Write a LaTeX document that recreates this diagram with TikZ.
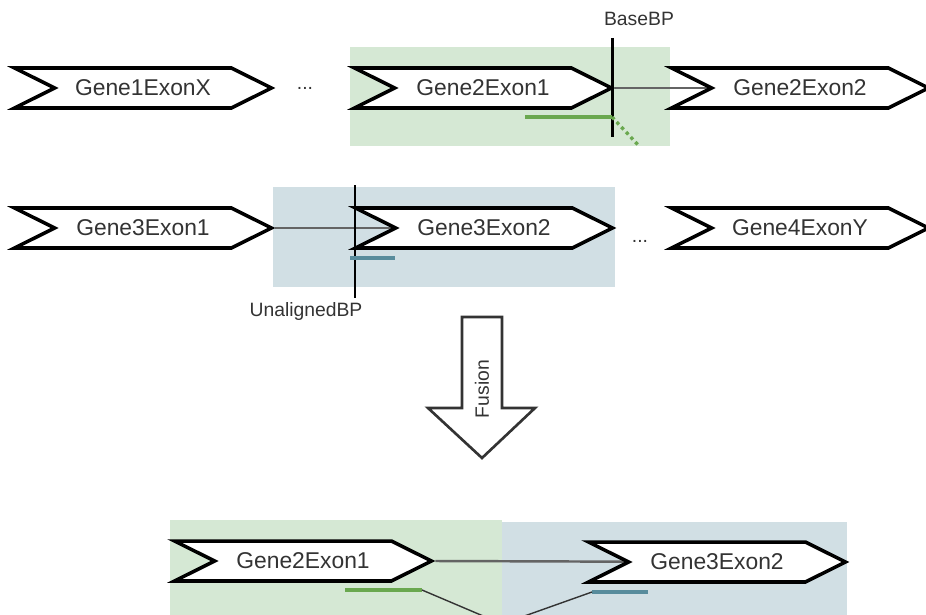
\documentclass[tikz,border=0pt]{standalone}
\usepackage{fontspec}
\setmainfont{Liberation Sans}
\usepackage{tikz}
\usetikzlibrary{positioning,shapes.symbols}
\definecolor{greenbg}{RGB}{213,232,212}
\definecolor{bluebg}{RGB}{209,223,228}
\definecolor{greenln}{RGB}{106,168,79}
\definecolor{blueln}{RGB}{88,140,156}
\definecolor{linkgray}{RGB}{100,100,100}
\definecolor{txtgray}{RGB}{51,51,51}
\pgfdeclarelayer{back}
\pgfdeclarelayer{links}
\pgfsetlayers{back,links,main}

\begin{document}
\begin{tikzpicture}[x=0.02cm, y=-0.02cm,
  exon/.style={draw, line width=2pt, fill=white, signal, signal from=west, signal to=east,
    signal pointer angle=53, minimum width=5.14cm, minimum height=0.8cm, inner sep=0pt,
    text=txtgray, font=\fontsize{13}{15}\selectfont},
  lbl/.style={text=txtgray, font=\fontsize{11}{13}\selectfont},
  link/.style={draw=linkgray, line width=1.4pt},
  read/.style={line width=1.9pt},
  bp/.style={line width=1.7pt}]
\useasboundingbox (0,0) rectangle (926,615);
\clip (0,0) rectangle (926,615);

% exons
\node[exon] (g1ex) at (143,88) {Gene1ExonX};
\node[exon] (g2e1) at (483,88) {Gene2Exon1};
\node[exon] (g2e2) at (800,88) {Gene2Exon2};
\node[exon] (g3e1) at (143,228) {Gene3Exon1};
\node[exon] (g3e2) at (484,228) {Gene3Exon2};
\node[exon] (g4ey) at (800,228) {Gene4ExonY};
\node[exon] (fg2e1) at (303,561) {Gene2Exon1};
\node[exon] (fg3e2) at (717,562) {Gene3Exon2};
\node[lbl] (dots1) at (305,88) {...};
\node[lbl] (dots2) at (640,241) {...};

% shaded regions
\begin{pgfonlayer}{back}
\fill[greenbg] (350,47) rectangle (670,146);
\fill[bluebg] (273,187) rectangle (615,287);
\fill[greenbg] (170,520) rectangle (502,640);
\fill[bluebg] (502,522) rectangle (847,640);
\end{pgfonlayer}

% junctions
\begin{pgfonlayer}{links}
\draw[link] (g2e1.east) -- (g2e2.center);
\draw[link] (g3e1.east) -- (g3e2.center);
\draw[link] (fg2e1.east) -- (fg3e2.center);
\end{pgfonlayer}

% breakpoints
\coordinate (basetop) at (612,38);
\coordinate (basebot) at (612,137);
\draw[bp] (basetop) -- (basebot);
\node[lbl] (baselbl) at (639,19) {BaseBP};
\coordinate (unaltop) at (355,185);
\coordinate (unalbot) at (355,298);
\draw[bp] (unaltop) -- (unalbot);
\node[lbl] (unallbl) at (306,311) {UnalignedBP};

% reads
\coordinate (gr1) at (525,117);
\coordinate (gr2) at (612,117);
\coordinate (gr3) at (640,147);
\draw[read, greenln] (gr1) -- (gr2);
\draw[read, greenln, dotted] (gr2) -- (gr3);
\coordinate (bl1) at (350,258);
\coordinate (bl2) at (395,258);
\draw[read, blueln] (bl1) -- (bl2);

\coordinate (fgr1) at (345,590);
\coordinate (fgr2) at (422,590);
\coordinate (fbl1) at (592,592);
\coordinate (fbl2) at (648,592);
\coordinate (meet) at (502,624);
\draw[read, greenln] (fgr1) -- (fgr2);
\draw[read, blueln] (fbl1) -- (fbl2);
\draw[txtgray, line width=0.8pt] (fgr2) -- (meet) -- (fbl1);

% fusion arrow
\draw[txtgray, line width=1.5pt, fill=white] (462,317) -- (502,317) -- (502,408) -- (535,408)
  -- (482,458) -- (428,408) -- (462,408) -- cycle;
\node[lbl, rotate=90] (fusion) at (482,389) {Fusion};
\end{tikzpicture}
\end{document}
